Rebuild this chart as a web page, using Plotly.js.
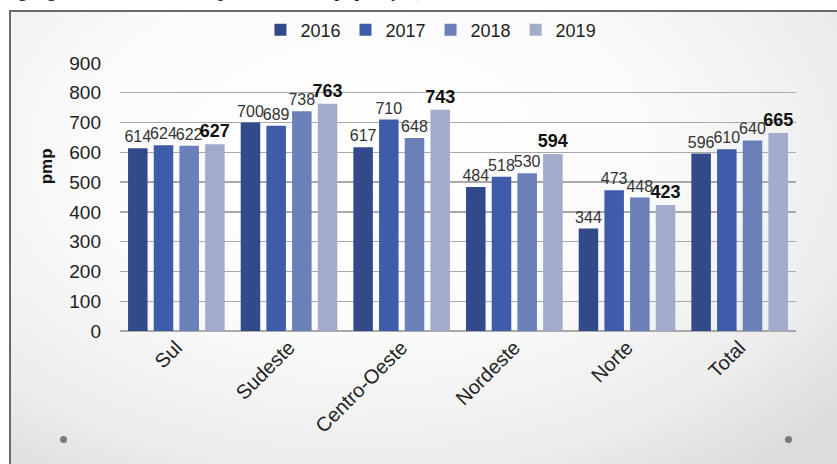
<!DOCTYPE html>
<html>
<head>
<meta charset="utf-8">
<script src="https://cdn.plot.ly/plotly-3.0.1.min.js"></script>
<style>
  html, body { margin: 0; padding: 0; width: 837px; height: 464px; overflow: hidden; background: #ffffff; }
  #caption { position: absolute; top: -22px; right: 414px; white-space: nowrap;
             font-family: "Liberation Serif", "DejaVu Serif", serif; font-size: 20px; color: #111; }
  #frame { position: absolute; left: 9px; top: 10px; width: 840px; height: 470px;
           border-top: 2px solid #6a6a6a; border-left: 2px solid #6a6a6a;
           background: radial-gradient(ellipse 75% 85% at 42% 30%, #ffffff 0%, #fbfbfb 45%, #ececec 80%, #dcdcdc 100%); }
  .dot { position: absolute; width: 7px; height: 7px; border-radius: 50%; background: #7a7a7a; }
  #chart { position: absolute; left: 0; top: 0; width: 837px; height: 464px; }
</style>
</head>
<body>
<div id="caption">regiões geográficas, 2016-2019 (por milhão de população)</div>
<div id="frame"></div>
<div class="dot" style="left:60px; top:436px;"></div>
<div class="dot" style="left:785px; top:436px;"></div>
<div id="chart"></div>
<script>
const categories = ['Sul', 'Sudeste', 'Centro-Oeste', 'Nordeste', 'Norte', 'Total'];
const years = ['2016', '2017', '2018', '2019'];
const v2016 = [614, 700, 617, 484, 344, 596];
const v2017 = [624, 689, 710, 518, 473, 610];
const v2018 = [622, 738, 648, 530, 448, 640];
const v2019 = [627, 763, 743, 594, 423, 665];
const yTicks = [0, 100, 200, 300, 400, 500, 600, 700, 800, 900];

const series = [v2016, v2017, v2018, v2019];
const colors = ['#324a8a', '#3f5cab', '#6b7fb9', '#a2abc9'];

const traces = series.map((vals, i) => ({
  type: 'bar',
  name: years[i],
  x: categories,
  y: vals,
  text: vals.map(String),
  textposition: 'outside',
  constraintext: 'none',
  cliponaxis: false,
  textfont: i === 3
    ? { family: 'Liberation Sans, Arial, sans-serif', size: 18, color: '#111', weight: 'bold' }
    : { family: 'Liberation Sans, Arial, sans-serif', size: 16, color: '#333' },
  marker: { color: colors[i], line: { width: 0 } },
  hoverinfo: 'x+y+name'
}));

const layout = {
  width: 837,
  height: 464,
  margin: { l: 120, r: 41, t: 63, b: 133 },
  paper_bgcolor: 'rgba(0,0,0,0)',
  plot_bgcolor: 'rgba(0,0,0,0)',
  barmode: 'group',
  bargap: 0.088,
  bargroupgap: 0.24,
  showlegend: true,
  legend: {
    orientation: 'h', x: 0.46, xanchor: 'center', y: 1.123, yanchor: 'middle',
    font: { family: 'Liberation Sans, Arial, sans-serif', size: 18, color: '#222' },
    itemwidth: 30, bgcolor: 'rgba(0,0,0,0)'
  },
  xaxis: {
    type: 'category',
    tickangle: -45,
    tickfont: { family: 'Liberation Sans, Arial, sans-serif', size: 20, color: '#222' },
    showgrid: false, zeroline: false, showline: false, ticks: ''
  },
  yaxis: {
    range: [0, 900],
    tickvals: yTicks,
    ticktext: yTicks.map(String),
    tickfont: { family: 'Liberation Sans, Arial, sans-serif', size: 19, color: '#222' },
    ticklabelstandoff: 18,
    showgrid: true, gridcolor: '#a9a9a9', gridwidth: 1.3,
    zeroline: true, zerolinecolor: '#a9a9a9', zerolinewidth: 1.3,
    showline: false, ticks: ''
  },
  annotations: [{
    text: 'pmp', xref: 'paper', yref: 'y', x: 0, y: 553, xshift: -74,
    xanchor: 'center', yanchor: 'middle', textangle: -90, showarrow: false,
    font: { family: 'Liberation Sans, Arial, sans-serif', size: 17, color: '#111', weight: 'bold' }
  }]
};

Plotly.newPlot('chart', traces, layout, { displayModeBar: false, staticPlot: true });
</script>
</body>
</html>
